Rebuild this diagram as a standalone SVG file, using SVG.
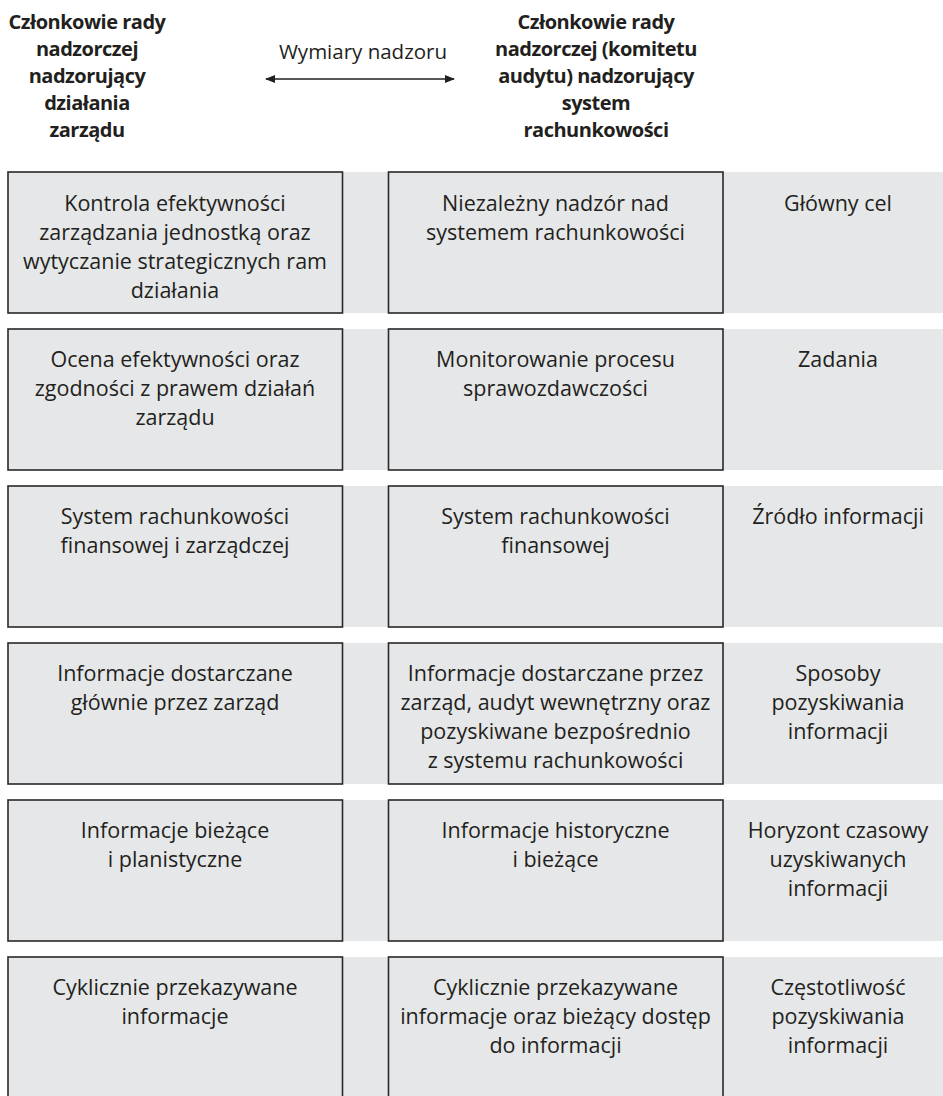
<svg xmlns="http://www.w3.org/2000/svg" width="943" height="1096" viewBox="0 0 943 1096">
  <style>
    .band { fill: #e6e7e8; }
    .box { fill: #e6e7e8; stroke: #2a2829; stroke-width: 1.6; }
    .t { font-family: "Open Sans", "Noto Sans", sans-serif; font-size: 21.5px; fill: #231f20; text-anchor: middle; }
    .h { font-family: "Open Sans", "Noto Sans", sans-serif; font-size: 20px; letter-spacing: -0.5px; font-weight: bold; fill: #231f20; text-anchor: middle; }
    .hm { font-family: "Open Sans", "Noto Sans", sans-serif; font-size: 20.5px; fill: #231f20; text-anchor: middle; }
    .conn { stroke: #231f20; stroke-width: 1.3; fill: none; }
  </style>
  <defs>
    <marker id="ah" viewBox="0 0 10 8" refX="9" refY="4" markerWidth="10" markerHeight="8" markerUnits="userSpaceOnUse" orient="auto-start-reverse">
      <path d="M0,0 L10,4 L0,8 Z" fill="#231f20"/>
    </marker>
  </defs>
  <rect width="943" height="1096" fill="#ffffff"/>

  <!-- column headings -->
  <g id="head-left">
    <text class="h" x="87" y="29">Członkowie rady</text>
    <text class="h" x="87" y="56">nadzorczej</text>
    <text class="h" x="87" y="83">nadzorujący</text>
    <text class="h" x="87" y="110">działania</text>
    <text class="h" x="87" y="137">zarządu</text>
  </g>
  <g id="head-right">
    <text class="h" x="596" y="29">Członkowie rady</text>
    <text class="h" x="596" y="56">nadzorczej (komitetu</text>
    <text class="h" x="596" y="83">audytu) nadzorujący</text>
    <text class="h" x="596" y="110">system</text>
    <text class="h" x="596" y="137">rachunkowości</text>
  </g>
  <g id="head-mid">
    <text class="hm" x="363" y="59">Wymiary nadzoru</text>
  </g>

  <!-- connectors -->
  <g id="connectors">
    <line class="conn" x1="266" y1="79" x2="454" y2="79" marker-start="url(#ah)" marker-end="url(#ah)"/>
  </g>

  <!-- row 1 -->
  <g id="row1" transform="translate(0,172)">
    <rect class="band" x="8" y="0" width="935" height="141"/>
    <rect class="box" x="8" y="0" width="334.5" height="141"/>
    <rect class="box" x="388.5" y="0" width="334.5" height="141"/>
    <text class="t" x="175" y="38.5">Kontrola efektywności</text>
    <text class="t" x="175" y="67.5">zarządzania jednostką oraz</text>
    <text class="t" x="175" y="96.5">wytyczanie strategicznych ram</text>
    <text class="t" x="175" y="125.5">działania</text>
    <text class="t" x="555.5" y="38.5">Niezależny nadzór nad</text>
    <text class="t" x="555.5" y="67.5">systemem rachunkowości</text>
    <text class="t" x="838" y="38.5">Główny cel</text>
  </g>

  <!-- row 2 -->
  <g id="row2" transform="translate(0,329)">
    <rect class="band" x="8" y="0" width="935" height="141"/>
    <rect class="box" x="8" y="0" width="334.5" height="141"/>
    <rect class="box" x="388.5" y="0" width="334.5" height="141"/>
    <text class="t" x="175" y="37.5">Ocena efektywności oraz</text>
    <text class="t" x="175" y="66.5">zgodności z prawem działań</text>
    <text class="t" x="175" y="95.5">zarządu</text>
    <text class="t" x="555.5" y="37.5">Monitorowanie procesu</text>
    <text class="t" x="555.5" y="66.5">sprawozdawczości</text>
    <text class="t" x="838" y="37.5">Zadania</text>
  </g>

  <!-- row 3 -->
  <g id="row3" transform="translate(0,486)">
    <rect class="band" x="8" y="0" width="935" height="141"/>
    <rect class="box" x="8" y="0" width="334.5" height="141"/>
    <rect class="box" x="388.5" y="0" width="334.5" height="141"/>
    <text class="t" x="175" y="37.5">System rachunkowości</text>
    <text class="t" x="175" y="66.5">finansowej i zarządczej</text>
    <text class="t" x="555.5" y="37.5">System rachunkowości</text>
    <text class="t" x="555.5" y="66.5">finansowej</text>
    <text class="t" x="838" y="37.5">Źródło informacji</text>
  </g>

  <!-- row 4 -->
  <g id="row4" transform="translate(0,643)">
    <rect class="band" x="8" y="0" width="935" height="141"/>
    <rect class="box" x="8" y="0" width="334.5" height="141"/>
    <rect class="box" x="388.5" y="0" width="334.5" height="141"/>
    <text class="t" x="175" y="37.5">Informacje dostarczane</text>
    <text class="t" x="175" y="66.5">głównie przez zarząd</text>
    <text class="t" x="555.5" y="37.5">Informacje dostarczane przez</text>
    <text class="t" x="555.5" y="66.5">zarząd, audyt wewnętrzny oraz</text>
    <text class="t" x="555.5" y="95.5">pozyskiwane bezpośrednio</text>
    <text class="t" x="555.5" y="124.5">z systemu rachunkowości</text>
    <text class="t" x="838" y="37.5">Sposoby</text>
    <text class="t" x="838" y="66.5">pozyskiwania</text>
    <text class="t" x="838" y="95.5">informacji</text>
  </g>

  <!-- row 5 -->
  <g id="row5" transform="translate(0,800)">
    <rect class="band" x="8" y="0" width="935" height="141"/>
    <rect class="box" x="8" y="0" width="334.5" height="141"/>
    <rect class="box" x="388.5" y="0" width="334.5" height="141"/>
    <text class="t" x="175" y="37.5">Informacje bieżące</text>
    <text class="t" x="175" y="66.5">i planistyczne</text>
    <text class="t" x="555.5" y="37.5">Informacje historyczne</text>
    <text class="t" x="555.5" y="66.5">i bieżące</text>
    <text class="t" x="838" y="37.5">Horyzont czasowy</text>
    <text class="t" x="838" y="66.5">uzyskiwanych</text>
    <text class="t" x="838" y="95.5">informacji</text>
  </g>

  <!-- row 6 (runs past the lower edge) -->
  <g id="row6" transform="translate(0,957)">
    <rect class="band" x="8" y="0" width="935" height="141"/>
    <rect class="box" x="8" y="0" width="334.5" height="141"/>
    <rect class="box" x="388.5" y="0" width="334.5" height="141"/>
    <text class="t" x="175" y="37.5">Cyklicznie przekazywane</text>
    <text class="t" x="175" y="66.5">informacje</text>
    <text class="t" x="555.5" y="37.5">Cyklicznie przekazywane</text>
    <text class="t" x="555.5" y="66.5">informacje oraz bieżący dostęp</text>
    <text class="t" x="555.5" y="95.5">do informacji</text>
    <text class="t" x="838" y="37.5">Częstotliwość</text>
    <text class="t" x="838" y="66.5">pozyskiwania</text>
    <text class="t" x="838" y="95.5">informacji</text>
  </g>
</svg>
